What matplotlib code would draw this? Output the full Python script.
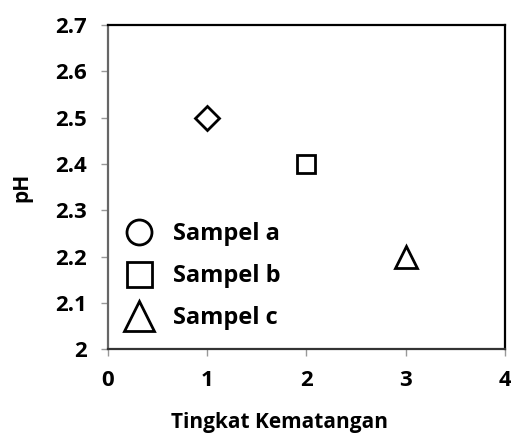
import matplotlib
matplotlib.use('Agg')
import matplotlib.pyplot as plt
from matplotlib.lines import Line2D

plt.rcParams['font.family'] = ['Open Sans', 'DejaVu Sans']
plt.rcParams['font.weight'] = 'bold'

# data
tingkat = [1, 2, 3]
ph = [2.5, 2.4, 2.2]
labels = ['Sampel a', 'Sampel b', 'Sampel c']
markers_plot = ['D', 's', '^']
markers_legend = ['o', 's', '^']
xticks = [0, 1, 2, 3, 4]
yticks = [2.0, 2.1, 2.2, 2.3, 2.4, 2.5, 2.6, 2.7]
yticklabels = ['2', '2.1', '2.2', '2.3', '2.4', '2.5', '2.6', '2.7']

fig = plt.figure(figsize=(5.11, 4.37), dpi=100)
ax = fig.add_axes([0.211, 0.201, 0.777, 0.742])

sizes = [12, 13, 16]
for x, y, m, s in zip(tingkat, ph, markers_plot, sizes):
    ax.plot(x, y, marker=m, ms=s, mfc='white', mec='black', mew=2.0, ls='none')

ax.set_xlim(0, 4)
ax.set_ylim(2.0, 2.7)
ax.set_xticks(xticks)
ax.set_yticks(yticks)
ax.set_yticklabels(yticklabels)
ax.tick_params(direction='out', length=5, width=1, color='#999999',
               labelsize=16, pad=10)
for lab in ax.get_xticklabels() + ax.get_yticklabels():
    lab.set_fontweight('bold')

for side in ['top', 'right']:
    ax.spines[side].set_color('black')
    ax.spines[side].set_linewidth(1.6)
ax.spines['left'].set_color('#666666')
ax.spines['left'].set_linewidth(1.6)
ax.spines['bottom'].set_color('#333333')
ax.spines['bottom'].set_linewidth(1.6)

ax.set_xlabel('Tingkat Kematangan', fontsize=15, fontweight='bold')
ax.set_ylabel('pH', fontsize=15, fontweight='bold')
ax.xaxis.set_label_coords(0.433, -0.195)
ax.yaxis.set_label_coords(-0.19, 0.5)

leg_sizes = [18, 18, 21]
handles = [Line2D([], [], marker=m, ms=s, mfc='white', mec='black', mew=2.0, ls='none')
           for m, s in zip(markers_legend, leg_sizes)]
leg = ax.legend(handles, labels, loc='center left', bbox_to_anchor=(0.043, 0.225),
                frameon=False, prop={'size': 17, 'weight': 'bold'},
                handlelength=1.2, handletextpad=0.85, labelspacing=0.76,
                borderpad=0, borderaxespad=0)

fig.savefig('out.png', dpi=100)
